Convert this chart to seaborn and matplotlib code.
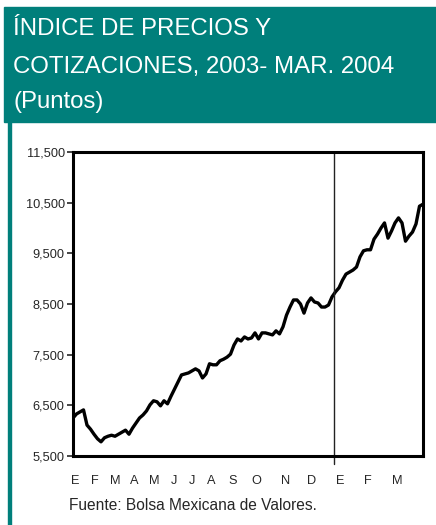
import numpy as np
import pandas as pd
import matplotlib
matplotlib.use("Agg")
import matplotlib.pyplot as plt
import matplotlib.patches as mpatches
import seaborn as sns

# Índice de Precios y Cotizaciones (puntos), ene-2003 a mar-2004, muestreo uniforme
ipc = [6250, 6330, 6370, 6410, 6110, 6030, 5930, 5840, 5780, 5860,
       5890, 5910, 5890, 5930, 5970, 6010, 5930, 6050, 6150, 6250,
       6310, 6390, 6510, 6590, 6570, 6490, 6590, 6530, 6680, 6820,
       6960, 7100, 7120, 7140, 7180, 7220, 7180, 7040, 7120, 7320,
       7300, 7300, 7380, 7410, 7450, 7510, 7690, 7810, 7770, 7850,
       7810, 7830, 7930, 7810, 7930, 7930, 7910, 7890, 7970, 7910,
       8050, 8280, 8440, 8580, 8580, 8500, 8320, 8520, 8620, 8540,
       8520, 8440, 8440, 8480, 8640, 8740, 8820, 8970, 9090, 9130,
       9170, 9230, 9430, 9550, 9570, 9570, 9780, 9880, 10000, 10100,
       9800, 9940, 10100, 10200, 10100, 9740, 9840, 9920, 10080, 10430,
       10470]
meses = ["E", "F", "M", "A", "M", "J", "J", "A", "S", "O", "N", "D", "E", "F", "M"]
pos_meses = [0.6, 6.3, 12.0, 17.4, 23.1, 28.9, 34.0, 39.4, 45.7, 52.3,
             60.6, 68.3, 76.3, 84.3, 92.6]
fin_2003 = 74.6
y_ticks = [5500, 6500, 7500, 8500, 9500, 10500, 11500]

df = pd.DataFrame({"obs": np.arange(len(ipc)), "ipc": ipc})

sns.set_style("white")
plt.rcParams["font.family"] = ["Liberation Sans", "DejaVu Sans"]

TEAL = "#007F7B"
fig = plt.figure(figsize=(4.36, 5.25), dpi=100)

# banner y borde izquierdo
fig.patches.append(mpatches.Rectangle((4 / 436, 1 - 122 / 525), 432 / 436, 115 / 525,
                                      transform=fig.transFigure, color=TEAL, zorder=0))
fig.patches.append(mpatches.Rectangle((8 / 436, 0), 3 / 436, 1 - 122 / 525,
                                      transform=fig.transFigure, color=TEAL, zorder=0))
titulo = ["ÍNDICE DE PRECIOS Y", "COTIZACIONES, 2003- MAR. 2004", "(Puntos)"]
for linea, yc in zip(titulo, [29, 66.5, 102]):
    fig.text(13 / 436, 1 - yc / 525, linea, color="white", fontsize=17.3,
             ha="left", va="center")

ax = fig.add_axes([73 / 436, 1 - 456 / 525, 350 / 436, 304 / 525])
sns.lineplot(data=df, x="obs", y="ipc", ax=ax, color="black", linewidth=2.4)
ax.axvline(fin_2003, ymin=-0.025, ymax=1, color="#222222", linewidth=1.0, clip_on=False)

ax.set_xlim(0, len(ipc) - 1)
ax.set_ylim(5500, 11500)
ax.set_yticks(y_ticks)
ax.set_yticklabels([f"{v:,}" for v in y_ticks], fontsize=9.2)
ax.set_xticks(pos_meses)
ax.set_xticklabels(meses, fontsize=9.2)
ax.tick_params(axis="x", length=0, pad=14)
ax.tick_params(axis="y", length=4, width=1.2, pad=2, direction="out", left=True)
ax.set_xlabel("")
ax.set_ylabel("")
for s in ax.spines.values():
    s.set_linewidth(2.2)
    s.set_color("black")

fig.text(69 / 436, 1 - 506 / 525, "Fuente: Bolsa Mexicana de Valores.",
         fontsize=11.2, ha="left", va="center")

fig.savefig("out.png", dpi=100)
